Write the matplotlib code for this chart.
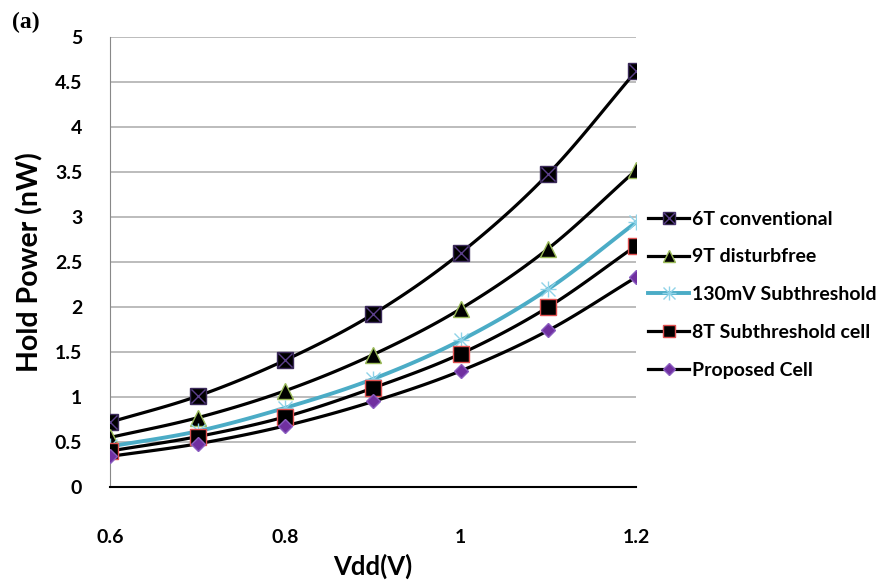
import numpy as np
import matplotlib.pyplot as plt
from matplotlib.legend_handler import HandlerTuple

plt.rcParams['font.family'] = ['Lato', 'DejaVu Sans']

# дані
vdd = [0.6, 0.7, 0.8, 0.9, 1.0, 1.1, 1.2]
p_6t = [0.72, 1.01, 1.41, 1.92, 2.60, 3.48, 4.62]
p_9t = [0.55, 0.77, 1.07, 1.47, 1.98, 2.65, 3.52]
p_130mv = [0.45, 0.62, 0.88, 1.20, 1.63, 2.20, 2.94]
p_8t = [0.40, 0.56, 0.78, 1.10, 1.48, 2.00, 2.68]
p_prop = [0.34, 0.48, 0.68, 0.95, 1.29, 1.74, 2.33]
labels = ['6T conventional', '9T disturbfree', '130mV Subthreshold',
          '8T Subthreshold cell', 'Proposed Cell']


def smooth(x, y, n=20):
    # згладжена лінія як в Excel (Catmull-Rom)
    x = np.asarray(x, float)
    y = np.asarray(y, float)
    px = np.concatenate([[2 * x[0] - x[1]], x, [2 * x[-1] - x[-2]]])
    py = np.concatenate([[2 * y[0] - y[1]], y, [2 * y[-1] - y[-2]]])
    t = np.linspace(0, 1, n)[:, None]
    xs, ys = [], []
    for i in range(1, len(px) - 2):
        for p, out in ((px, xs), (py, ys)):
            p0, p1, p2, p3 = p[i - 1], p[i], p[i + 1], p[i + 2]
            seg = 0.5 * (2 * p1 + (-p0 + p2) * t + (2 * p0 - 5 * p1 + 4 * p2 - p3) * t ** 2
                         + (-p0 + 3 * p1 - 3 * p2 + p3) * t ** 3)
            out.append(seg.ravel())
    return np.concatenate(xs), np.concatenate(ys)


fig = plt.figure(figsize=(8.96, 5.83), dpi=100)
ax = fig.add_axes([0.1228, 0.1647, 0.587, 0.7718])

handles = []

# 6T
ax.plot(*smooth(vdd, p_6t), color='black', lw=2.3, zorder=2)
a = ax.plot(vdd, p_6t, ls='none', marker='s', ms=11, mfc='black', mec='#3b2a5a', zorder=3)[0]
b = ax.plot(vdd, p_6t, ls='none', marker='x', ms=10, mec='#5a3f8a', mew=1, zorder=4)[0]
handles.append((plt.Line2D([], [], color='black', lw=2.3), a, b))

# 9T
ax.plot(*smooth(vdd, p_9t), color='black', lw=2.3, zorder=2)
a = ax.plot(vdd, p_9t, ls='none', marker='^', ms=11, mfc='black', mec='#9bbb59', zorder=3)[0]
handles.append((plt.Line2D([], [], color='black', lw=2.3), a))

# 130mV
ax.plot(*smooth(vdd, p_130mv), color='#4bacc6', lw=2.8, zorder=2)
a = ax.plot(vdd, p_130mv, ls='none', marker='x', ms=10, mec='#8fd3e8', mew=1, zorder=3)[0]
b = ax.plot(vdd, p_130mv, ls='none', marker='+', ms=12, mec='#8fd3e8', mew=1, zorder=3)[0]
handles.append((plt.Line2D([], [], color='#4bacc6', lw=2.8), a, b))

# 8T
ax.plot(*smooth(vdd, p_8t), color='black', lw=2.3, zorder=2)
a = ax.plot(vdd, p_8t, ls='none', marker='s', ms=11, mfc='black', mec='#e05050', zorder=3)[0]
handles.append((plt.Line2D([], [], color='black', lw=2.3), a))

# Proposed
ax.plot(*smooth(vdd, p_prop), color='black', lw=2.3, zorder=2)
a = ax.plot(vdd, p_prop, ls='none', marker='D', ms=7.5, mfc='#7030a0', mec='#8a5cc0', zorder=3)[0]
handles.append((plt.Line2D([], [], color='black', lw=2.3), a))

ax.set_xlim(0.6, 1.2)
ax.set_ylim(0, 5)
ax.set_xticks([0.6, 0.8, 1.0, 1.2])
ax.set_xticklabels(['0.6', '0.8', '1', '1.2'])
ax.set_yticks(np.arange(0, 5.01, 0.5))
ax.set_yticklabels(['0', '0.5', '1', '1.5', '2', '2.5', '3', '3.5', '4', '4.5', '5'])
ax.tick_params(length=0, labelsize=14)
ax.tick_params(axis='x', pad=30)
ax.tick_params(axis='y', pad=20)
for t in ax.get_xticklabels() + ax.get_yticklabels():
    t.set_fontweight('bold')
ax.grid(axis='y', color='#b0b0b0', lw=1.2)
ax.set_axisbelow(True)
for s in ['top', 'right']:
    ax.spines[s].set_visible(False)
ax.spines['left'].set_color('#888888')
ax.spines['bottom'].set_linewidth(1.5)
ax.set_xlabel('Vdd(V)', fontsize=18.5, fontweight='bold', labelpad=6)
ax.set_ylabel('Hold Power (nW)', fontsize=20.5, fontweight='bold', labelpad=8)

ax.legend(handles, labels, handler_map={tuple: HandlerTuple(ndivide=1)},
          loc='upper left', bbox_to_anchor=(1.005, 0.636), frameon=False,
          handlelength=2.1, handletextpad=0.15, labelspacing=1.07, borderpad=0,
          markerscale=0.85, prop={'weight': 'bold', 'size': 14})

fig.text(0.013, 0.952, '(a)', fontsize=17, fontweight='bold', family='Liberation Serif')

fig.savefig('out.png', dpi=100)
